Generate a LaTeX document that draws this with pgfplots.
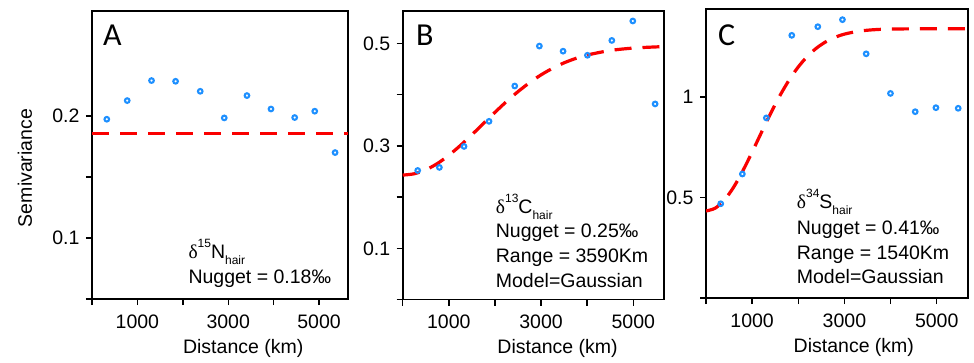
\documentclass[border=0pt]{standalone}
\usepackage{fontspec}
\setmainfont{Liberation Sans}
\newfontfamily\serifd{Liberation Serif}
\newfontfamily\letterfont{Carlito}
\usepackage{pgfplots}
\pgfplotsset{compat=1.18}
\definecolor{ptblue}{RGB}{30,144,255}
\definecolor{ptred}{RGB}{250,0,0}
\newcommand{\annfont}{\fontsize{19.5}{19.5}\selectfont}
\newcommand{\smallfont}{\fontsize{12}{12}\selectfont}
\pgfplotsset{
  panel/.style={
    scale only axis,
    axis line style={line width=1.8pt, line join=miter},
    every tick/.style={line width=1.4pt, black},
    major tick length=6pt,
    tick align=outside,
    xtick pos=bottom, ytick pos=left,
    /pgf/number format/assume math mode=true,
    ticklabel style={font=\fontsize{19.5}{19.5}\selectfont},
    xticklabel style={yshift=-6pt},
    yticklabel style={xshift=-3pt},
    label style={font=\fontsize{19.5}{19.5}\selectfont},
    xtick={0,1000,2000,3000,4000,5000},
    xticklabels={,1000,,3000,,5000},
    xmin=0,
    xlabel={Distance (km)},
    clip=true,
  },
  pts/.style={only marks, mark=o, mark size=2.3pt, mark options={line width=2.1pt, ptblue}},
  fit/.style={ptred, line width=3.2pt, dash pattern=on 17pt off 11pt},
}
\begin{document}
\begin{tikzpicture}
\path[use as bounding box] (0,0) rectangle (974pt,-362pt);
% Panel A
\begin{axis}[panel, at={(92pt,-299pt)}, anchor=south west,
  width=256.3pt, height=288pt,
  xmax=5645, ymin=0.05, ymax=0.286,
  ytick={0.05,0.1,0.15,0.2}, yticklabels={,0.1,,0.2},
  ylabel={Semivariance},
  ylabel style={at={(axis description cs:-0.262,0.455)}, anchor=center},
  xlabel style={at={(axis description cs:0.59,-0.17)}, anchor=center}]
\addplot[fit] coordinates {(0,0.1856) (5645,0.1856)};
\addplot[pts] coordinates {
(326,0.1973) (776,0.2126) (1311,0.2290) (1841,0.2284) (2384,0.2202)
(2913,0.1984) (3413,0.2167) (3942,0.2057) (4464,0.1987) (4906,0.2039) (5354,0.1700)};
\end{axis}
% Panel B
\begin{axis}[panel, at={(402.7pt,-299.5pt)}, anchor=south west,
  width=261.6pt, height=288.5pt,
  xmax=5672, ymin=0, ymax=0.5635,
  ytick={0,0.1,0.2,0.3,0.4,0.5}, yticklabels={,0.1,,0.3,,0.5},
  xlabel style={at={(axis description cs:0.592,-0.17)}, anchor=center}]
\addplot[fit, smooth] coordinates {
(0,0.2430) (250,0.2456) (500,0.2533) (750,0.2655) (1000,0.2817) (1250,0.3008)
(1500,0.3218) (1750,0.3437) (2000,0.3656) (2250,0.3866) (2500,0.4060) (2750,0.4235)
(3000,0.4388) (3250,0.4516) (3500,0.4623) (3750,0.4708) (4000,0.4775) (4500,0.4864)
(5000,0.4911) (5500,0.4934) (5672,0.4939)};
\addplot[pts] coordinates {
(325,0.252) (795,0.258) (1330,0.299) (1872,0.348) (2429,0.417) (2963,0.495)
(3477,0.485) (4005,0.477) (4534,0.506) (4989,0.544) (5473,0.382)};
\end{axis}
% Panel C
\begin{axis}[panel, at={(706pt,-298pt)}, anchor=south west,
  width=261.7pt, height=289pt,
  xmax=5672, ymin=0, ymax=1.438,
  ytick={0,0.5,1}, yticklabels={,0.5,1},
  xlabel style={at={(axis description cs:0.565,-0.17)}, anchor=center}]
\addplot[fit, smooth] coordinates {
(0,0.433) (200,0.4471) (400,0.4880) (600,0.5520) (800,0.6336) (1000,0.7262)
(1200,0.8232) (1400,0.9182) (1600,1.0063) (1800,1.0841) (2000,1.1499) (2200,1.2030)
(2400,1.2444) (2600,1.2753) (2800,1.2975) (3000,1.3131) (3300,1.3271) (3600,1.3343)
(4000,1.3383) (5000,1.3399) (5672,1.3400)};
\addplot[pts] coordinates {
(319,0.469) (788,0.617) (1308,0.896) (1859,1.307) (2423,1.350) (2957,1.385)
(3471,1.215) (3998,1.018) (4534,0.927) (4983,0.947) (5466,0.944)};
\end{axis}
% panel letters
\node[anchor=base west, inner sep=0, font=\letterfont\fontsize{32}{32}\selectfont] at (103pt,-45.7pt) {A};
\node[anchor=base west, inner sep=0, font=\letterfont\fontsize{32}{32}\selectfont] at (416pt,-45pt) {B};
\node[anchor=base west, inner sep=0, font=\letterfont\fontsize{32}{32}\selectfont] at (718pt,-45pt) {C};
% annotations A
\node[anchor=base west, inner sep=0, font=\annfont] at (188.3pt,-258.3pt) {{\serifd δ}\raisebox{0.55em}{\smallfont 15}N\raisebox{-0.3em}{\smallfont hair}};
\node[anchor=base west, inner sep=0, font=\annfont] at (188.3pt,-283.3pt) {Nugget = 0.18‰};
% annotations B
\node[anchor=base west, inner sep=0, font=\annfont] at (495.7pt,-213.3pt) {{\serifd δ}\raisebox{0.55em}{\smallfont 13}C\raisebox{-0.3em}{\smallfont hair}};
\node[anchor=base west, inner sep=0, font=\annfont] at (495.7pt,-237.3pt) {Nugget = 0.25‰};
\node[anchor=base west, inner sep=0, font=\annfont] at (495.7pt,-262.7pt) {Range = 3590Km};
\node[anchor=base west, inner sep=0, font=\annfont] at (495.7pt,-287.3pt) {Model=Gaussian};
% annotations C
\node[anchor=base west, inner sep=0, font=\annfont] at (796.7pt,-208.3pt) {{\serifd δ}\raisebox{0.55em}{\smallfont 34}S\raisebox{-0.3em}{\smallfont hair}};
\node[anchor=base west, inner sep=0, font=\annfont] at (796.7pt,-234.3pt) {Nugget = 0.41‰};
\node[anchor=base west, inner sep=0, font=\annfont] at (796.7pt,-259pt) {Range = 1540Km};
\node[anchor=base west, inner sep=0, font=\annfont] at (796.7pt,-283.3pt) {Model=Gaussian};
\end{tikzpicture}
\end{document}
